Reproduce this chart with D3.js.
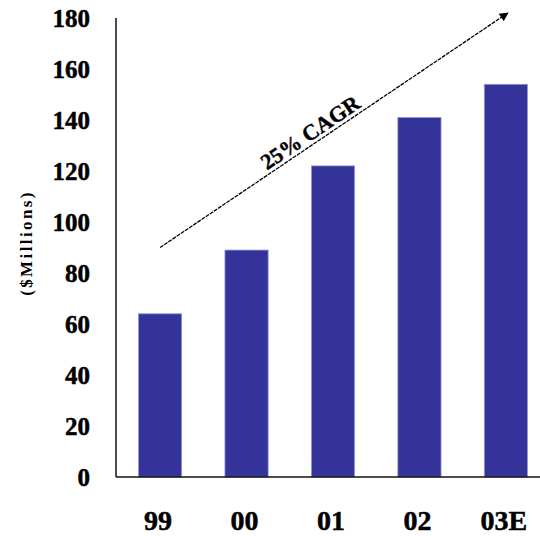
<!DOCTYPE html>
<html>
<head>
<meta charset="utf-8">
<script src="https://cdn.jsdelivr.net/npm/d3@7"></script>
<style>
  html, body { margin: 0; padding: 0; background: #fff; }
  svg { display: block; }
  text { font-family: "Liberation Serif", "Times New Roman", serif; font-weight: bold; fill: #000; }
</style>
</head>
<body>
<svg id="chart" width="540" height="536"></svg>
<script>
// Revenue by year ($ millions)
const years = ["99", "00", "01", "02", "03E"];
const revenue = [64, 89, 122, 141, 154];
const yTicks = [0, 20, 40, 60, 80, 100, 120, 140, 160, 180];
const axisTitle = "($Millions)";
const growthLabel = "25% CAGR";
// Growth trend arrow, expressed in chart units: from the first year to the last
const trendFrom = { year: "99", value: 90 };
const trendTo = { year: "03E", value: 182 };

const svg = d3.select("#chart");
const W = 540, H = 536;
const plotLeft = 116, plotTop = 18, plotBottom = 477;

const x = d3.scaleBand()
  .domain(years)
  .range([plotLeft, 550])
  .paddingInner(0.5)
  .paddingOuter(0.26);

const y = d3.scaleLinear()
  .domain([0, 180])
  .range([plotBottom, plotTop]);

// Bars
svg.append("g").selectAll("rect")
  .data(years.map((d, i) => ({ year: d, value: revenue[i] })))
  .join("rect")
  .attr("x", d => x(d.year))
  .attr("y", d => y(d.value))
  .attr("width", x.bandwidth())
  .attr("height", d => y(0) - y(d.value))
  .attr("fill", "#333399")
  .attr("stroke", "#9a9ad6")
  .attr("stroke-width", 0.8);

// Y axis: line plus labels, no tick marks
const yAxis = svg.append("g")
  .attr("transform", `translate(${plotLeft},0)`)
  .call(d3.axisLeft(y).tickValues(yTicks).tickSize(0).tickPadding(26));
yAxis.select(".domain").attr("stroke", "#111").attr("stroke-width", 1.5).attr("d", `M0,${plotTop}V${plotBottom}`);
yAxis.selectAll("text")
  .attr("font-size", 25)
  .attr("font-family", "Liberation Serif, serif")
  .attr("font-weight", "bold")
  .attr("stroke", "#000")
  .attr("stroke-width", 0.5)
  .attr("dy", "0.34em");

// X axis: line running to the right edge, labels under each bar
const xAxis = svg.append("g")
  .attr("transform", `translate(0,${plotBottom})`)
  .call(d3.axisBottom(x).tickSize(0).tickPadding(33));
xAxis.select(".domain").attr("stroke", "#111").attr("stroke-width", 1.5).attr("d", `M${plotLeft},0H${W}`);
xAxis.selectAll("text")
  .attr("font-size", 28)
  .attr("font-family", "Liberation Serif, serif")
  .attr("font-weight", "bold")
  .attr("stroke", "#000")
  .attr("stroke-width", 0.5)
  .attr("dx", -2)
  .attr("dy", "0.71em");

// Y axis title
svg.append("text")
  .attr("transform", `translate(32,243) rotate(-90)`)
  .attr("text-anchor", "middle")
  .attr("font-size", 17)
  .attr("letter-spacing", 2.4)
  .text(axisTitle);

// Trend arrow
const x1 = x(trendFrom.year) + x.bandwidth() / 2;
const y1 = y(trendFrom.value);
const x2 = x(trendTo.year) + x.bandwidth() / 2 + 2;
const y2 = y(trendTo.value);

svg.append("defs").append("marker")
  .attr("id", "head")
  .attr("viewBox", "0 0 10 10")
  .attr("refX", 9).attr("refY", 5)
  .attr("markerWidth", 11).attr("markerHeight", 9)
  .attr("markerUnits", "userSpaceOnUse")
  .attr("orient", "auto")
  .append("path")
  .attr("d", "M0,0L10,5L0,10Z")
  .attr("fill", "#000");

svg.append("line")
  .attr("x1", x1).attr("y1", y1)
  .attr("x2", x2).attr("y2", y2)
  .attr("stroke", "#000")
  .attr("stroke-width", 1.3)
  .attr("stroke-dasharray", "4,1")
  .attr("marker-end", "url(#head)");

// Growth label laid along the arrow
const angle = Math.atan2(y2 - y1, x2 - x1) * 180 / Math.PI;
const t = 0.45;
const lx = x1 + (x2 - x1) * t;
const ly = y1 + (y2 - y1) * t;
svg.append("text")
  .attr("transform", `translate(${lx},${ly}) rotate(${angle})`)
  .attr("text-anchor", "middle")
  .attr("dy", -4)
  .attr("font-size", 22)
  .attr("stroke", "#000")
  .attr("stroke-width", 0.4)
  .text(growthLabel);
</script>
</body>
</html>
